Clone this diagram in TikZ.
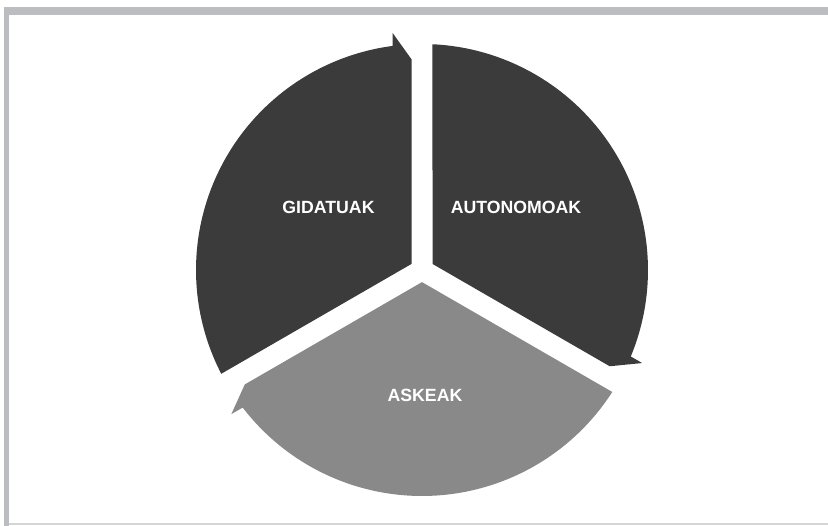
\documentclass[tikz,border=0pt]{standalone}
\usepackage{fontspec}
\setmainfont{Liberation Sans}
\usetikzlibrary{calc}
\definecolor{cyDark}{HTML}{3B3B3B}
\definecolor{cyLight}{HTML}{898989}
\definecolor{cyFrame}{HTML}{BCBDC0}
\definecolor{cyLine}{HTML}{D4D5D7}
\tikzset{
 cyc/.style={line join=miter},
 stage/.style={font=\fontsize{15.1}{17}\selectfont\bfseries,text=white,inner sep=0pt},
 frame/.style={fill=cyFrame},
 baseline/.style={fill=cyLine}
}
% #1 angle at the arrow end, #2 other angle, #3 colour
\newcommand{\cycArrow}[3]{%
 \fill[#3] ($(C)+({(#1+#2)/2}:{10.5/sin(60)})$)
   -- ($(C)+({#2-asin(10.5/226)}:226)$)
   arc[start angle={#2-asin(10.5/226)},end angle={#1+asin(29.5/226)},radius=226]
   -- ($(C)+({#1}:237.2)+({#1+90}:29.5)$)
   -- ($(C)+({#1}:210.7)+({#1+90}:10.5)$)
   -- cycle;}

\begin{document}
\begin{tikzpicture}[cyc,x=0.03cm,y=0.03cm]
 \useasboundingbox (0,0) rectangle (828,526);
 % frame
 \fill[frame] (4,511) rectangle (828,519);
 \fill[frame] (4,0) rectangle (9,519);
 \fill[baseline] (9,0.8) rectangle (828,2.6);
 % cycle
 \coordinate (C) at (422,256);
 \cycArrow{90}{210}{cyDark}
 \cycArrow{-30}{90}{cyDark}
 \cycArrow{210}{330}{cyLight}
 \node[stage] (gid) at (328.5,319) {GIDATUAK};
 \node[stage] (aut) at (516,319) {AUTONOMOAK};
 \node[stage] (ask) at (425,131) {ASKEAK};
\end{tikzpicture}
\end{document}
